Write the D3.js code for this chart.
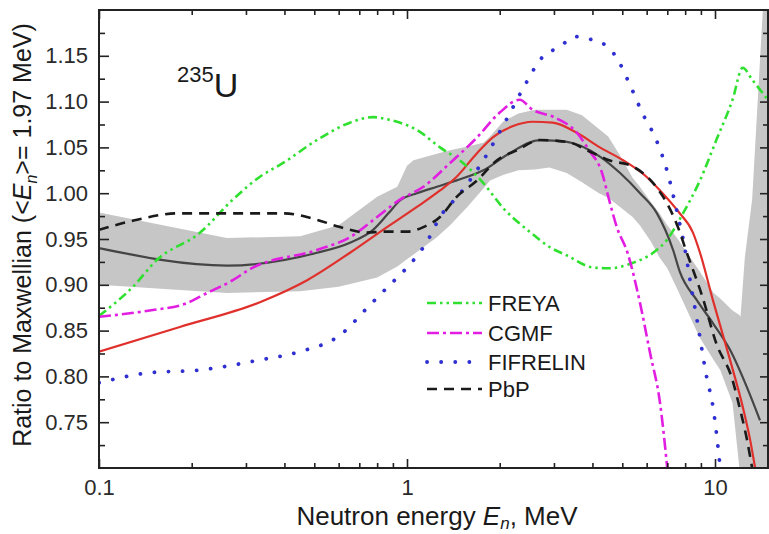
<!DOCTYPE html>
<html>
<head>
<meta charset="utf-8">
<script src="https://cdn.jsdelivr.net/npm/d3@7"></script>
<style>
  body { margin: 0; background: #fff; }
  text { font-family: Arial, "Liberation Sans", sans-serif; }
</style>
</head>
<body>
<div id="the_chart"></div>
<script>
// values (energy in MeV, ratio to Maxwellian)
var bandE  = [0.1, 0.26, 0.45, 0.6, 0.8, 0.93, 1.0, 1.05, 1.25, 1.38, 1.57, 1.77, 1.86, 2.05, 2.3, 2.6, 2.9, 3.3, 3.7, 4.2, 4.5, 5.0, 5.4, 5.7, 6.2, 6.6, 7.0, 7.5, 8.9, 9.9, 10.4, 11.4, 12.0, 12.1, 12.5, 13.2, 14.3, 15];
var bandHi = [0.979, 0.951, 0.953, 0.965, 0.996, 1.007, 1.030, 1.036, 1.043, 1.047, 1.051, 1.055, 1.062, 1.078, 1.087, 1.091, 1.091, 1.091, 1.085, 1.070, 1.062, 1.037, 1.017, 1.007, 0.990, 0.978, 0.965, 0.952, 0.915, 0.891, 0.885, 0.872, 0.867, 0.865, 0.93, 0.993, 1.20, 1.28];
var bandLo = [0.900, 0.891, 0.893, 0.898, 0.908, 0.920, 0.928, 0.933, 0.952, 0.965, 0.985, 1.005, 1.014, 1.020, 1.025, 1.026, 1.028, 1.022, 1.012, 1.000, 0.995, 0.983, 0.974, 0.965, 0.947, 0.930, 0.918, 0.897, 0.843, 0.818, 0.807, 0.771, 0.700, 0.690, 0.66, 0.65, 0.65, 0.65];

var meanE = [0.1, 0.26, 0.51, 0.653, 0.776, 0.87, 0.949, 1.077, 1.25, 1.45, 1.77, 2.16, 2.7, 3.31, 4.23, 4.92, 5.71, 6.48, 7.31, 7.69, 8.74, 9.85, 11.19, 12.7, 14.0];
var meanV = [0.940, 0.921, 0.935, 0.946, 0.960, 0.978, 0.992, 1.000, 1.007, 1.014, 1.025, 1.044, 1.058, 1.056, 1.040, 1.022, 1.000, 0.978, 0.938, 0.914, 0.883, 0.858, 0.829, 0.788, 0.752];

var redE = [0.1, 0.183, 0.333, 0.474, 0.653, 0.836, 1.077, 1.28, 1.45, 1.69, 1.9, 2.2, 2.56, 2.97, 3.56, 4.23, 5.03, 5.99, 6.63, 7.6, 8.48, 8.94, 9.85, 11.19, 12.3, 13.0, 13.5, 14.0];
var redV = [0.827, 0.854, 0.881, 0.905, 0.935, 0.960, 0.985, 1.003, 1.018, 1.044, 1.061, 1.073, 1.078, 1.077, 1.066, 1.050, 1.036, 1.018, 1.003, 0.980, 0.957, 0.935, 0.883, 0.818, 0.767, 0.731, 0.700, 0.670];

var freyaE = [0.1, 0.129, 0.154, 0.213, 0.272, 0.333, 0.396, 0.51, 0.653, 0.776, 0.88, 1.077, 1.28, 1.52, 1.77, 2.05, 2.5, 2.91, 3.31, 4.0, 4.53, 5.42, 6.3, 6.98, 7.87, 8.94, 10.1, 11.4, 12.3, 13.2, 14.3, 15];
var freyaV = [0.866, 0.898, 0.927, 0.957, 0.993, 1.018, 1.033, 1.058, 1.077, 1.083, 1.080, 1.069, 1.050, 1.033, 1.011, 0.984, 0.958, 0.941, 0.932, 0.919, 0.918, 0.924, 0.935, 0.949, 0.978, 1.014, 1.058, 1.102, 1.137, 1.124, 1.109, 1.100];

var cgmfE = [0.1, 0.146, 0.193, 0.224, 0.272, 0.309, 0.51, 0.653, 0.80, 0.949, 1.13, 1.38, 1.69, 2.0, 2.32, 2.56, 3.0, 3.56, 3.9, 4.3, 4.53, 4.8, 5.2, 5.71, 6.15, 6.63, 7.0];
var cgmfV = [0.865, 0.872, 0.880, 0.891, 0.905, 0.917, 0.938, 0.952, 0.974, 0.993, 1.007, 1.033, 1.061, 1.088, 1.102, 1.091, 1.083, 1.066, 1.047, 1.022, 0.993, 0.963, 0.935, 0.880, 0.826, 0.771, 0.700];

var fifE = [0.1, 0.146, 0.213, 0.333, 0.449, 0.606, 0.758, 0.88, 0.97, 1.17, 1.28, 1.49, 1.77, 2.1, 2.37, 2.76, 3.14, 3.5, 3.8, 4.3, 4.77, 5.3, 5.8, 6.45, 6.98, 7.5, 8.0, 8.3, 8.74, 9.4, 9.85, 10.4];
var fifV = [0.793, 0.804, 0.807, 0.818, 0.827, 0.845, 0.878, 0.900, 0.914, 0.949, 0.974, 1.000, 1.036, 1.080, 1.113, 1.149, 1.160, 1.171, 1.169, 1.164, 1.149, 1.118, 1.088, 1.058, 1.025, 0.982, 0.938, 0.905, 0.862, 0.799, 0.767, 0.700];

var pbpE = [0.1, 0.133, 0.18, 0.26, 0.4, 0.51, 0.606, 0.74, 0.836, 1.0, 1.13, 1.28, 1.45, 1.69, 1.96, 2.28, 2.7, 3.31, 4.0, 4.53, 5.42, 6.3, 6.98, 7.5, 8.1, 9.1, 10.1, 11.4, 12.0, 12.7, 13.2];
var pbpV = [0.960, 0.971, 0.978, 0.978, 0.978, 0.971, 0.963, 0.957, 0.958, 0.958, 0.963, 0.974, 0.996, 1.014, 1.036, 1.047, 1.058, 1.056, 1.044, 1.036, 1.029, 1.011, 0.989, 0.967, 0.935, 0.887, 0.836, 0.796, 0.767, 0.731, 0.700];

var yTicks = [0.75, 0.80, 0.85, 0.90, 0.95, 1.00, 1.05, 1.10, 1.15];
var yMinor = [0.725, 0.775, 0.825, 0.875, 0.925, 0.975, 1.025, 1.075, 1.125, 1.175];
var xTicks = [0.1, 1, 10];
var xMinor = [0.2, 0.3, 0.4, 0.5, 0.6, 0.7, 0.8, 0.9, 2, 3, 4, 5, 6, 7, 8, 9];

var series = [
  {name: "FREYA",    E: freyaE, v: freyaV, color: "#2fe02f", dash: "9,4,2.5,4,2.5,4", width: 2.6, cap: "butt"},
  {name: "CGMF",     E: cgmfE,  v: cgmfV,  color: "#e11ee1", dash: "12,4,3,4",        width: 2.6, cap: "butt"},
  {name: "FIFRELIN", E: fifE,   v: fifV,   color: "#3030d0", dash: "0.1,14",          width: 3.8, cap: "round"},
  {name: "PbP",      E: pbpE,   v: pbpV,   color: "#1a1a1a", dash: "10,7",            width: 2.6, cap: "butt"}
];

gen_chart();

function gen_chart() {
    var w = 769;
    var h = 534;
    var left = 99, right = 768, top = 10, bottom = 468;

    var svg = d3.select("#the_chart")
                .append("svg")
                .attr("width", w)
                .attr("height", h);

    var xscale = d3.scaleLog()
                   .domain([0.1, 10])
                   .range([left, 715]);

    var yscale = d3.scaleLinear()
                   .domain([0.7, 1.2])
                   .range([bottom, top]);

    svg.append("clipPath")
       .attr("id", "plotclip")
       .append("rect")
       .attr("x", left).attr("y", top)
       .attr("width", right - left).attr("height", bottom - top);

    var plot = svg.append("g").attr("clip-path", "url(#plotclip)");

    // uncertainty band
    var band = bandE.map(function(e, i) { return {E: e, lo: bandLo[i], hi: bandHi[i]}; });
    plot.append("path")
        .datum(band)
        .attr("fill", "#c6c6c6")
        .attr("d", d3.area()
                     .x(function(d) { return xscale(d.E); })
                     .y0(function(d) { return yscale(d.lo); })
                     .y1(function(d) { return yscale(d.hi); }));

    var line = d3.line()
                 .x(function(d) { return xscale(d.E); })
                 .y(function(d) { return yscale(d.v); })
                 .curve(d3.curveMonotoneX);

    function pts(E, v) { return E.map(function(e, i) { return {E: e, v: v[i]}; }); }

    plot.append("path")
        .datum(pts(meanE, meanV))
        .attr("fill", "none")
        .attr("stroke", "#454545")
        .attr("stroke-width", 2.2)
        .attr("d", line);

    plot.append("path")
        .datum(pts(redE, redV))
        .attr("fill", "none")
        .attr("stroke", "#e0302c")
        .attr("stroke-width", 2.2)
        .attr("d", line);

    plot.selectAll("path.model")
        .data(series)
      .enter().append("path")
        .attr("class", "model")
        .attr("fill", "none")
        .attr("stroke", function(d) { return d.color; })
        .attr("stroke-width", function(d) { return d.width; })
        .attr("stroke-dasharray", function(d) { return d.dash; })
        .attr("stroke-linecap", function(d) { return d.cap; })
        .attr("d", function(d) { return line(pts(d.E, d.v)); });

    // axes, ticks inward on all four sides
    var fmt = function(d) { return d3.format(".2f")(d); };
    function styleAxis(g) {
        g.select(".domain").remove();
        g.selectAll("line").attr("stroke", "#222").attr("stroke-width", 1.6);
        g.selectAll("text").attr("fill", "#2a2a2a").style("font-size", "22px");
    }

    svg.append("g").attr("transform", "translate(0," + bottom + ")")
       .call(d3.axisBottom(xscale).tickValues(xTicks).tickSize(-9).tickPadding(11).tickFormat(d3.format("")))
       .call(styleAxis);
    svg.append("g").attr("transform", "translate(0," + bottom + ")")
       .call(d3.axisBottom(xscale).tickValues(xMinor).tickSize(-5).tickFormat(""))
       .call(styleAxis);
    svg.append("g").attr("transform", "translate(0," + top + ")")
       .call(d3.axisTop(xscale).tickValues(xTicks).tickSize(-9).tickFormat(""))
       .call(styleAxis);
    svg.append("g").attr("transform", "translate(0," + top + ")")
       .call(d3.axisTop(xscale).tickValues(xMinor).tickSize(-5).tickFormat(""))
       .call(styleAxis);

    svg.append("g").attr("transform", "translate(" + left + ",0)")
       .call(d3.axisLeft(yscale).tickValues(yTicks).tickSize(-10).tickPadding(11).tickFormat(fmt))
       .call(styleAxis);
    svg.append("g").attr("transform", "translate(" + left + ",0)")
       .call(d3.axisLeft(yscale).tickValues(yMinor).tickSize(-6).tickFormat(""))
       .call(styleAxis);
    svg.append("g").attr("transform", "translate(" + right + ",0)")
       .call(d3.axisRight(yscale).tickValues(yTicks).tickSize(-8).tickFormat(""))
       .call(styleAxis);
    svg.append("g").attr("transform", "translate(" + right + ",0)")
       .call(d3.axisRight(yscale).tickValues(yMinor).tickSize(-5).tickFormat(""))
       .call(styleAxis);

    svg.append("rect")
       .attr("x", left).attr("y", top)
       .attr("width", right - left).attr("height", bottom - top)
       .attr("fill", "none")
       .attr("stroke", "#222")
       .attr("stroke-width", 2);

    // legend
    var leg = svg.append("g").attr("transform", "translate(427,303)");
    var row = leg.selectAll("g")
                 .data(series)
               .enter().append("g")
                 .attr("transform", function(d, i) { return "translate(0," + [0, 30, 59, 86][i] + ")"; });
    row.append("line")
       .attr("x1", 0).attr("x2", 55)
       .attr("stroke", function(d) { return d.color; })
       .attr("stroke-width", function(d) { return d.width; })
       .attr("stroke-dasharray", function(d) { return d.dash; })
       .attr("stroke-linecap", function(d) { return d.cap; });
    row.append("text")
       .attr("x", 61).attr("dy", "0.36em")
       .attr("fill", "#1a1a1a")
       .style("font-size", "22px")
       .text(function(d) { return d.name; });

    // nucleus label
    var lab = svg.append("text").attr("x", 177).attr("y", 97).attr("fill", "#1a1a1a");
    lab.append("tspan").attr("dy", -15).style("font-size", "22px").text("235");
    lab.append("tspan").attr("dy", 15).style("font-size", "34px").text("U");

    // axis titles
    var xt = svg.append("text")
                .attr("x", 437).attr("y", 525)
                .attr("text-anchor", "middle")
                .attr("fill", "#1a1a1a")
                .style("font-size", "26px");
    xt.append("tspan").text("Neutron energy ");
    xt.append("tspan").style("font-style", "italic").text("E");
    xt.append("tspan").attr("dy", 4).style("font-size", "17px").style("font-style", "italic").text("n");
    xt.append("tspan").attr("dy", -4).text(", MeV");

    var yt = svg.append("text")
                .attr("transform", "translate(31,235) rotate(-90)")
                .attr("text-anchor", "middle")
                .attr("fill", "#1a1a1a")
                .style("font-size", "25px");
    yt.append("tspan").text("Ratio to Maxwellian (<");
    yt.append("tspan").style("font-style", "italic").text("E");
    yt.append("tspan").attr("dy", 6).style("font-size", "16px").style("font-style", "italic").text("n");
    yt.append("tspan").attr("dy", -6).text(">=  1.97 MeV)");
}
</script>
</body>
</html>
